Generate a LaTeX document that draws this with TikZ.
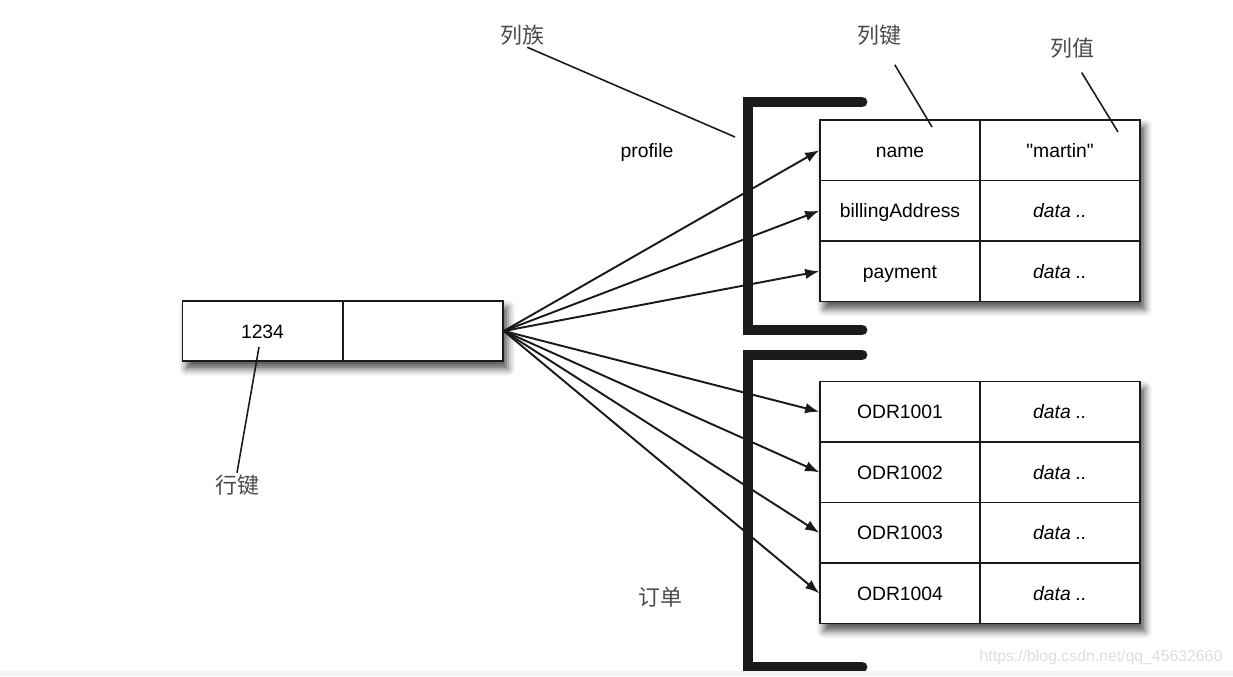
\documentclass[tikz,border=0pt]{standalone}
\usepackage{fontspec}
\setmainfont{Liberation Sans}
\newfontfamily\cjk{Noto Sans CJK SC}
\usetikzlibrary{arrows.meta,positioning,fit,backgrounds,shadows.blur}
\definecolor{ink}{HTML}{1A1A1A}
\definecolor{note}{HTML}{4A4A4A}
\definecolor{strip}{HTML}{F4F4F4}
\tikzset{
  cell/.style={draw=ink,line width=0.9pt,minimum width=3.2cm,minimum height=1.21cm,inner sep=0pt,text height=8pt,text depth=0pt,font=\fontsize{11}{13}\selectfont},
  tablebg/.style={fill=white,inner sep=0pt,blur shadow={shadow xshift=2.5pt,shadow yshift=-4pt,shadow blur radius=4pt,shadow opacity=65}},
  link/.style={draw=ink,line width=1.1pt,-{Latex[length=8pt,width=6pt]}},
  lead/.style={draw=ink,line width=0.9pt},
  bracket/.style={draw=ink,line width=6.2pt,line cap=round},
  cjklabel/.style={font=\cjk\fontsize{12.5}{14}\selectfont,text=note,inner sep=1pt},
}

\begin{document}
\begin{tikzpicture}[x=0.02cm,y=-0.02cm]
\useasboundingbox (0,0) rectangle (1233,676);
\def\rh{60.5}
% row key
\node[cell] (rk) at (262.5,331) {1234};
\node[cell] (rv) at (423,331) {};
% column families
\foreach \k/\v [count=\i] in {name/\textquotedbl martin\textquotedbl,billingAddress/\textit{data ..},payment/\textit{data ..}}{
  \node[cell] (pk\i) at (900,{150.25+\rh*(\i-1)}) {\k};
  \node[cell] (pv\i) at (1060,{150.25+\rh*(\i-1)}) {\v};
}
\foreach \i in {1,...,4}{
  \node[cell] (ok\i) at (900,{411.75+\rh*(\i-1)}) {ODR100\i};
  \node[cell] (ov\i) at (1060,{411.75+\rh*(\i-1)}) {\textit{data ..}};
}
\begin{scope}[on background layer]
  \node[tablebg,fit=(rk)(rv)] (rowbox) {};
  \node[tablebg,fit=(pk1)(pv3)] (profbox) {};
  \node[tablebg,fit=(ok1)(ov4)] (ordbox) {};
\end{scope}
\foreach \i in {1,2,3} \draw[link] (rv.east) -- (pk\i.west);
\foreach \i in {1,...,4} \draw[link] (rv.east) -- (ok\i.west);
\draw[bracket] (862,102) -- (748,102) -- (748,330) -- (862,330);
\draw[bracket] (862,355) -- (748,355) -- (748,667) -- (862,667);
% labels
\node[cjklabel] (fam) at (522,35) {列族};
\node[cjklabel] (colkey) at (879,35) {列键};
\node[cjklabel] (colval) at (1072,48) {列值};
\node[cjklabel] (rowkey) at (237,485) {行键};
\node[cjklabel] (orders) at (660,597) {订单};
\node[font=\fontsize{11}{13}\selectfont] (profile) at (647,153) {profile};
\coordinate (famtip) at (735,137);
\coordinate (keytip) at (932,127);
\coordinate (valtip) at (1118,132);
\coordinate (rowtip) at (259,347);
\draw[lead] ([xshift=3pt]fam.south) -- (famtip);
\draw[lead] ([shift={(9pt,-10pt)}]colkey.south) -- (keytip);
\draw[lead] ([shift={(5.5pt,-7pt)}]colval.south) -- (valtip);
\draw[lead] (rowtip) -- (rowkey.north);
\node[text=black!13,font=\fontsize{9}{11}\selectfont] (mark) at (1101,657) {https://blog.csdn.net/qq\_45632660};
\fill[strip] (0,671) rectangle (1233,676);
\end{tikzpicture}
\end{document}
